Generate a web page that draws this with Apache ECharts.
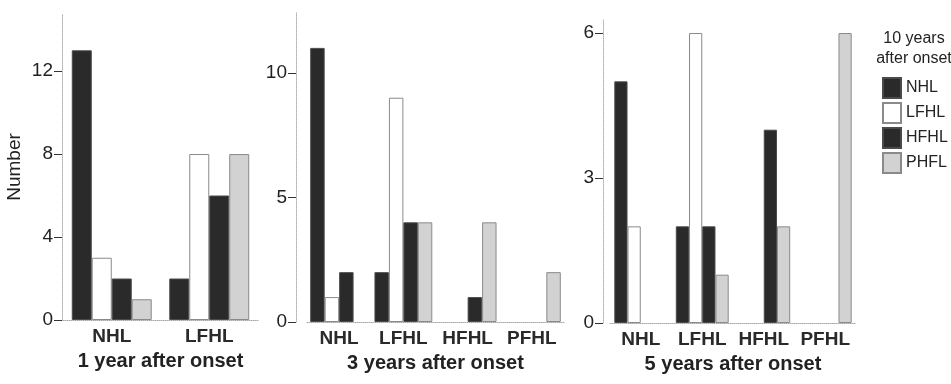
<!DOCTYPE html>
<html>
<head>
<meta charset="utf-8">
<script src="https://cdn.jsdelivr.net/npm/echarts@6/dist/echarts.min.js"></script>
<style>
  html, body { margin: 0; padding: 0; background: #fff; }
  #chart { width: 951px; height: 384px; }
</style>
</head>
<body>
<div id="chart"></div>
<script>
// categories (hearing loss type at the earlier time point)
const cats1 = ['NHL', 'LFHL'];
const cats3 = ['NHL', 'LFHL', 'HFHL', 'PFHL'];
const cats5 = ['NHL', 'LFHL', 'HFHL', 'PFHL'];

// counts by type 10 years after onset
const y1NHL = [13, 2];
const y1LFHL = [3, 8];
const y1HFHL = [2, 6];
const y1PHFL = [1, 8];

const y3NHL = [11, 2, 0, 0];
const y3LFHL = [1, 9, 0, 0];
const y3HFHL = [2, 4, 1, 0];
const y3PHFL = [0, 4, 4, 2];

const y5NHL = [5, 2, 0, 0];
const y5LFHL = [2, 6, 0, 0];
const y5HFHL = [0, 2, 4, 0];
const y5PHFL = [0, 1, 2, 6];

const ticks1 = [0, 4, 8, 12];
const ticks3 = [0, 5, 10];
const ticks5 = [0, 3, 6];

const seriesNames = ['NHL', 'LFHL', 'HFHL', 'PHFL'];
const panelTitles = ['1 year after onset', '3 years after onset', '5 years after onset'];

const FONT = "'Liberation Sans', Arial, sans-serif";

const styles = {
  NHL: { color: '#2a2a2a', borderColor: '#4a4a4a', borderWidth: 1 },
  LFHL: { color: '#ffffff', borderColor: '#8a8a8a', borderWidth: 1 },
  HFHL: { color: '#2a2a2a', borderColor: '#4a4a4a', borderWidth: 1 },
  PHFL: { color: '#d2d2d2', borderColor: '#8a8a8a', borderWidth: 1 }
};

const chart = echarts.init(document.getElementById('chart'));

function xAxisFor(i, cats) {
  return {
    type: 'category',
    gridIndex: i,
    data: cats,
    axisLine: { lineStyle: { color: '#a8a8a8', type: 'dotted', width: 1 } },
    axisTick: { show: false },
    axisLabel: { interval: 0, color: '#2a2a2a', fontSize: 19, fontWeight: 'bold', fontFamily: FONT, margin: 7 },
    name: panelTitles[i],
    nameLocation: 'middle',
    nameGap: 31,
    nameTextStyle: { color: '#222', fontSize: 20, fontWeight: 'bold', fontFamily: FONT }
  };
}

function yAxisFor(i, max, ticks, offset) {
  return {
    type: 'value',
    gridIndex: i,
    min: 0,
    max: max,
    offset: offset,
    splitLine: { show: false },
    axisLine: { show: true, lineStyle: { color: '#b0b0b0', type: 'dotted', width: 1 } },
    axisTick: { show: true, length: 8, customValues: ticks, lineStyle: { color: '#333', width: 1 } },
    axisLabel: { color: '#222', fontSize: 19, fontFamily: FONT, margin: 9, customValues: ticks },
    name: i === 0 ? 'Number' : '',
    nameLocation: 'middle',
    nameGap: 38,
    nameTextStyle: { color: '#222', fontSize: 19, fontFamily: FONT }
  };
}

function panelSeries(i, groups, gap) {
  return seriesNames.map((name, k) => ({
    name: name,
    type: 'bar',
    xAxisIndex: i,
    yAxisIndex: i,
    // empty cells (count 0) draw no bar at all
    data: groups[k].map(v => (v === 0 ? '-' : v)),
    barGap: '0%',
    barCategoryGap: gap,
    itemStyle: styles[name],
    emphasis: { disabled: true }
  }));
}

chart.setOption({
  animation: false,
  backgroundColor: '#fff',
  textStyle: { fontFamily: FONT },
  title: {
    text: '10 years\nafter onset',
    left: 909,
    top: 24,
    textAlign: 'center',
    textStyle: { color: '#222', fontSize: 16, fontWeight: 'normal', lineHeight: 20, fontFamily: FONT }
  },
  legend: {
    orient: 'vertical',
    left: 877,
    top: 72,
    itemWidth: 18,
    itemHeight: 20,
    itemGap: 3,
    icon: 'rect',
    selectedMode: false,
    data: seriesNames,
    textStyle: { color: '#222', fontSize: 16, fontFamily: FONT }
  },
  grid: [
    { left: 63, width: 195, top: 14, bottom: 64 },
    { left: 307, width: 257, top: 13, bottom: 62 },
    { left: 610, width: 246, top: 20, bottom: 61 }
  ],
  xAxis: [xAxisFor(0, cats1), xAxisFor(1, cats3), xAxisFor(2, cats5)],
  yAxis: [
    yAxisFor(0, 14.75, ticks1, 1),
    yAxisFor(1, 12.4, ticks3, 11),
    yAxisFor(2, 6.27, ticks5, 7)
  ],
  series: [
    ...panelSeries(0, [y1NHL, y1LFHL, y1HFHL, y1PHFL], '18%'),
    ...panelSeries(1, [y3NHL, y3LFHL, y3HFHL, y3PHFL], '10%'),
    ...panelSeries(2, [y5NHL, y5LFHL, y5HFHL, y5PHFL], '14%')
  ]
});
</script>
</body>
</html>
